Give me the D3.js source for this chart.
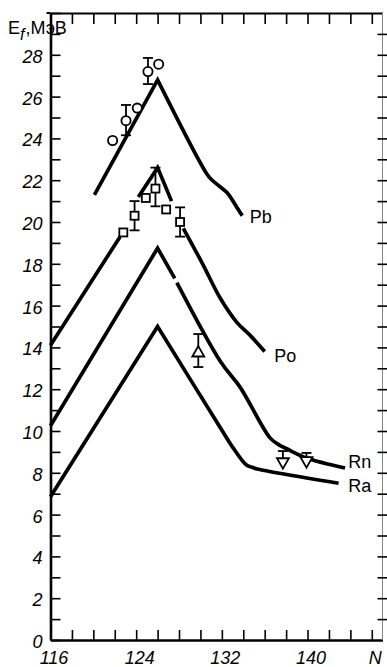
<!DOCTYPE html>
<html>
<head>
<meta charset="utf-8">
<script src="https://cdn.jsdelivr.net/npm/d3@7"></script>
<style>
  html, body { margin: 0; padding: 0; background: #fff; }
  svg { display: block; }
  text { font-family: "Liberation Sans", Arial, sans-serif; fill: #000; }
</style>
</head>
<body>
<svg id="chart" width="387" height="667"></svg>
<script>
// Fission barrier heights E_f (MeV) versus neutron number N for Pb, Po, Rn, Ra.

// Calculated curves (null marks a break in the drawn line);
// peakIndex marks the sharp maximum at the closed shell N = 126.
const pbCurveN = [120.1, 126.0, 130.6, 131.1, 131.8, 132.5, 133.4, 133.9];
const pbCurveE = [21.3, 26.8, 22.3, 22.0, 21.7, 21.4, 20.7, 20.3];

const poCurveN = [116.0, 122.5, null, 124.2, 126.0, 127.3, null, 128.4, 130.2, 131.8, 133.4, 134.6, 136.0];
const poCurveE = [14.1, 19.3, null, 21.2, 22.6, 21.0, null, 19.7, 18.0, 16.4, 15.2, 14.6, 13.8];

const rnCurveN = [116.0, 126.0, 127.6, null, 127.8, 131.9, 133.7, 136.5, 137.3, 138.1, 139.9, 143.5];
const rnCurveE = [10.25, 18.75, 17.3, null, 17.1, 13.3, 12.1, 9.67, 9.35, 9.14, 8.71, 8.23];

const raCurveN = [116.0, 126.0, 131.8, 133.0, 134.3, 134.9, 135.3, 142.9];
const raCurveE = [6.85, 15.0, 10.2, 9.23, 8.37, 8.25, 8.18, 7.5];

// Experimental points with error-bar ranges (null = no bar)
const pbDataN  = [121.8, 123.05, 124.1, 125.1, 126.1];
const pbDataE  = [23.9, 24.85, 25.45, 27.2, 27.55];
const pbDataLo = [null, 24.15, null, 26.6, null];
const pbDataHi = [null, 25.6, null, 27.85, null];

const poDataN  = [122.8, 123.85, 124.9, 125.8, 126.8, 128.1];
const poDataE  = [19.5, 20.3, 21.15, 21.6, 20.6, 20.0];
const poDataLo = [null, 19.6, null, 20.75, null, 19.3];
const poDataHi = [null, 21.0, null, 22.6, null, 20.7];

const upDataN  = [129.8];
const upDataE  = [13.73];
const upDataLo = [13.06];
const upDataHi = [14.64];

// downward triangles carry only an upper bar
const downDataN  = [137.7, 139.9];
const downDataE  = [8.53, 8.58];
const downDataLo = [8.53, 8.58];
const downDataHi = [9.04, 8.95];

// Axis ticks and labels
const yTicks = d3.range(0, 31, 1);
const yLabelTicks = d3.range(0, 29, 2);
const xTicks = d3.range(116, 147, 2);
const xLabels = {116: "116", 124: "124", 132: "132", 140: "140", 146: "N"};

const curveLabels = [
  {name: "Pb", N: 134.6, E: 19.95},
  {name: "Po", N: 136.9, E: 13.3},
  {name: "Rn", N: 143.8, E: 8.23},
  {name: "Ra", N: 143.8, E: 7.08}
];

const svg = d3.select("#chart");
const x = d3.scaleLinear().domain([116, 147]).range([50.5, 382.5]);
const y = d3.scaleLinear().domain([0, 30]).range([640, 13]);

// --- frame and axes ---
const axes = svg.append("g");

// left axis: inward ticks every unit, italic labels every 2
const leftAxis = axes.append("g")
  .attr("transform", `translate(${x(116)},0)`)
  .call(d3.axisLeft(y).tickValues(yTicks).tickSizeInner(-10).tickSizeOuter(0).tickPadding(8)
    .tickFormat(d => yLabelTicks.includes(d) ? String(d) : ""));
leftAxis.select(".domain").attr("stroke-width", 2.6);
leftAxis.selectAll(".tick line").attr("stroke-width", 1.6);
leftAxis.selectAll(".tick text")
  .attr("font-size", 18).attr("font-style", "italic")
  .attr("font-family", "'Liberation Sans', Arial, sans-serif")
  .attr("dy", "0.42em");

// bottom axis
const bottomAxis = axes.append("g")
  .attr("transform", `translate(0,${y(0)})`)
  .call(d3.axisBottom(x).tickValues(xTicks).tickSizeInner(-10).tickSizeOuter(0).tickPadding(11)
    .tickFormat(d => xLabels[d] || ""));
bottomAxis.select(".domain").attr("stroke-width", 2.6);
bottomAxis.selectAll(".tick line").attr("stroke-width", 1.6);
bottomAxis.selectAll(".tick").filter(d => d === 116).select("line").remove();
bottomAxis.selectAll(".tick text")
  .attr("font-size", 18).attr("font-style", "italic")
  .attr("font-family", "'Liberation Sans', Arial, sans-serif")
  .attr("dx", 3);

// top axis
const topAxis = axes.append("g")
  .attr("transform", `translate(0,${y(30)})`)
  .call(d3.axisTop(x).tickValues(xTicks.filter(d => d > 116)).tickSizeInner(-11).tickSizeOuter(0).tickFormat(""));
topAxis.select(".domain").attr("stroke-width", 2);
topAxis.selectAll(".tick line").attr("stroke-width", 1.6);
axes.append("line")
  .attr("x1", x(116) - 4).attr("x2", x(116))
  .attr("y1", y(30)).attr("y2", y(30))
  .attr("stroke", "#000").attr("stroke-width", 2);

// right axis: thin border with short ticks every unit
axes.append("line")
  .attr("x1", x(147)).attr("x2", x(147))
  .attr("y1", y(30)).attr("y2", y(0))
  .attr("stroke", "#888").attr("stroke-width", 1);
const rightAxis = axes.append("g")
  .attr("transform", `translate(${x(147) - 5},0)`)
  .call(d3.axisRight(y).tickValues(yTicks.filter(d => d > 0 && d < 30)).tickSizeInner(10).tickSizeOuter(0).tickFormat(""));
rightAxis.select(".domain").remove();
rightAxis.selectAll(".tick line").attr("stroke-width", 1.6);

// y-axis title
const title = svg.append("text")
  .attr("x", 8).attr("y", 34)
  .attr("font-size", 18);
title.append("tspan").text("E");
title.append("tspan").attr("font-style", "italic").attr("font-size", 16).attr("dy", 6).text("f");
title.append("tspan").attr("dy", -6).attr("dx", 1).text(",МэВ");

// --- curves ---
// Straight rising branch up to the peak, smooth falling branch after it,
// joined into one path so the maximum stays sharp.
const straight = d3.line().x(d => x(d[0])).y(d => y(d[1]));
const smooth = d3.line().x(d => x(d[0])).y(d => y(d[1])).curve(d3.curveCatmullRom.alpha(0.5));

function drawCurve(ns, es) {
  const pts = ns.map((n, i) => [n, es[i]]);
  // split into unbroken pieces
  const pieces = [];
  let cur = [];
  pts.forEach(p => {
    if (p[0] === null) { if (cur.length) pieces.push(cur); cur = []; }
    else cur.push(p);
  });
  if (cur.length) pieces.push(cur);

  let d = "";
  pieces.forEach(piece => {
    // index of the local maximum inside this piece (if it is interior)
    let k = d3.maxIndex(piece, p => p[1]);
    if (k > 0 && k < piece.length - 1) {
      const up = straight(piece.slice(0, k + 1));
      const down = smooth(piece.slice(k)).replace(/^M[^CLZ]*/, "");
      d += up + down;
    } else if (k === 0) {
      d += smooth(piece);
    } else {
      d += straight(piece);
    }
  });
  svg.append("path")
    .attr("d", d)
    .attr("fill", "none").attr("stroke", "#000")
    .attr("stroke-width", 3.7)
    .attr("stroke-linejoin", "miter").attr("stroke-miterlimit", 10)
    .attr("stroke-linecap", "butt");
}
drawCurve(pbCurveN, pbCurveE);
drawCurve(poCurveN, poCurveE);
drawCurve(rnCurveN, rnCurveE);
drawCurve(raCurveN, raCurveE);

// --- error bars ---
function drawErrors(ns, los, his, lowerCap) {
  const g = svg.append("g").attr("stroke", "#000").attr("stroke-width", 1.8);
  ns.forEach((n, i) => {
    if (los[i] === null) return;
    const cx = x(n);
    g.append("line").attr("x1", cx).attr("x2", cx).attr("y1", y(los[i])).attr("y2", y(his[i]));
    g.append("line").attr("x1", cx - 5).attr("x2", cx + 5).attr("y1", y(his[i])).attr("y2", y(his[i]));
    if (lowerCap) {
      g.append("line").attr("x1", cx - 5).attr("x2", cx + 5).attr("y1", y(los[i])).attr("y2", y(los[i]));
    }
  });
}
drawErrors(pbDataN, pbDataLo, pbDataHi, true);
drawErrors(poDataN, poDataLo, poDataHi, true);
drawErrors(upDataN, upDataLo, upDataHi, true);
drawErrors(downDataN, downDataLo, downDataHi, false);

// --- markers ---
const mk = svg.append("g").attr("fill", "#fff").attr("stroke", "#000").attr("stroke-width", 1.8);
pbDataN.forEach((n, i) => {
  mk.append("circle").attr("cx", x(n)).attr("cy", y(pbDataE[i])).attr("r", 4.6);
});
poDataN.forEach((n, i) => {
  mk.append("rect").attr("x", x(n) - 4).attr("y", y(poDataE[i]) - 4).attr("width", 8).attr("height", 8);
});
const tri = d3.symbol(d3.symbolTriangle, 62);
upDataN.forEach((n, i) => {
  mk.append("path").attr("d", tri()).attr("transform", `translate(${x(n)},${y(upDataE[i])})`);
});
downDataN.forEach((n, i) => {
  mk.append("path").attr("d", tri()).attr("transform", `translate(${x(n)},${y(downDataE[i])}) rotate(180)`);
});

// --- curve labels ---
svg.append("g").selectAll("text").data(curveLabels).join("text")
  .attr("x", d => x(d.N)).attr("y", d => y(d.E))
  .attr("font-size", 18)
  .text(d => d.name);
</script>
</body>
</html>
